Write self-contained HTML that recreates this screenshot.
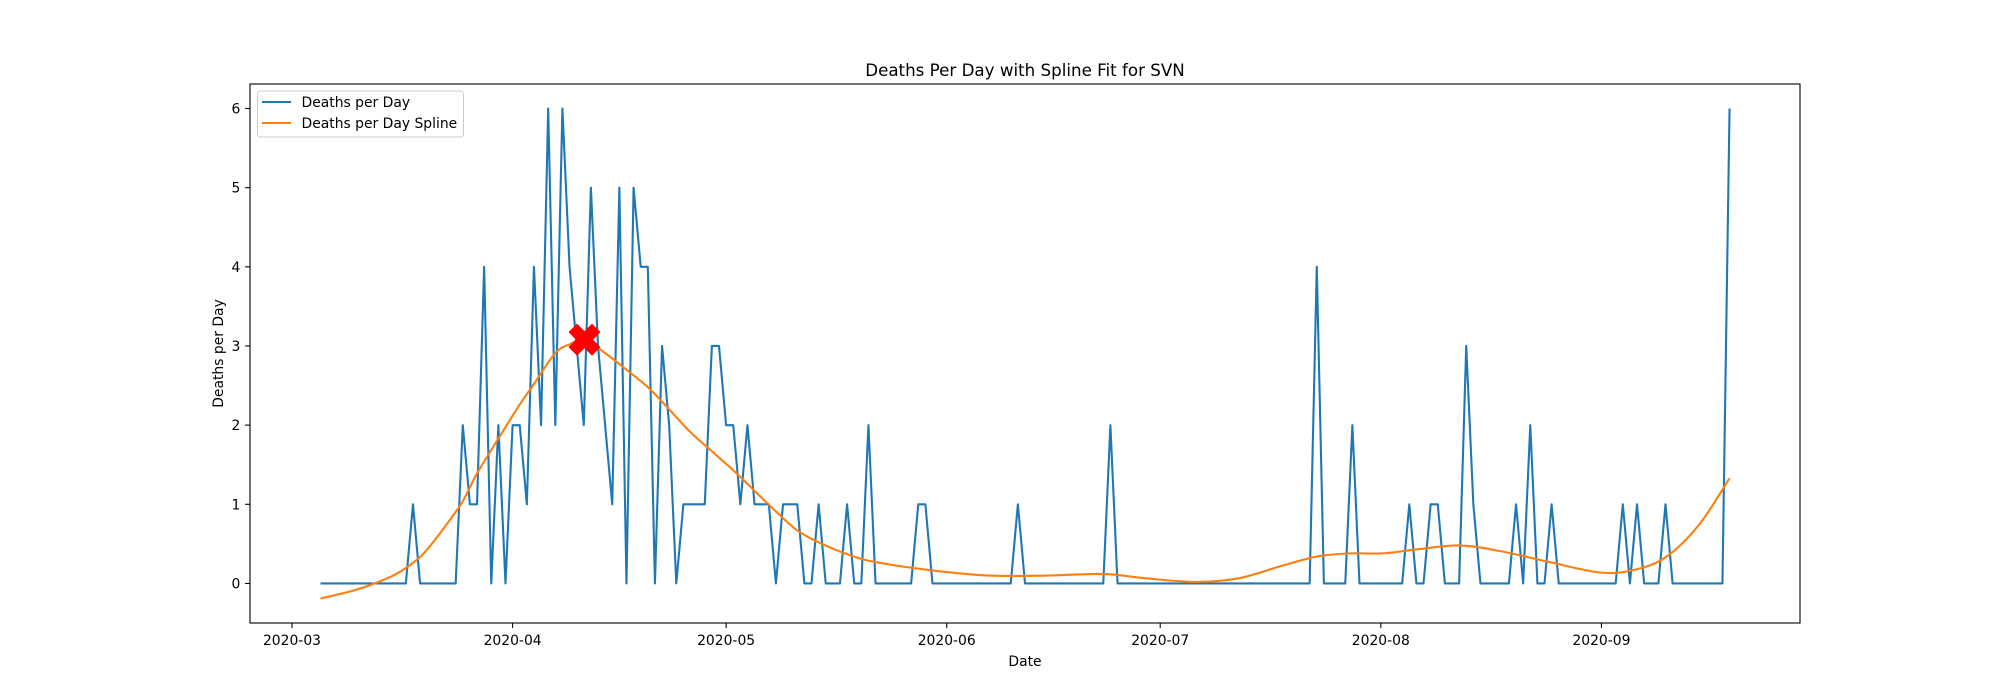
<!DOCTYPE html>
<html><head><meta charset="utf-8">
<style>
html,body{margin:0;padding:0;background:#fff;}
svg{display:block;font-family:"DejaVu Sans","Liberation Sans",sans-serif;}
</style></head>
<body>
<svg id="chart" width="2000" height="700" viewBox="0 0 2000 700" xmlns="http://www.w3.org/2000/svg">
<rect width="2000" height="700" fill="#fff"/>
<text x="1025" y="76" font-size="16.7" text-anchor="middle">Deaths Per Day with Spline Fit for SVN</text>
<g id="plot"></g>
<rect x="250" y="84" width="1550" height="539" fill="none" stroke="#000" stroke-width="1.1"/>
<text x="1025" y="666" font-size="13.9" text-anchor="middle">Date</text>
<text x="0" y="0" font-size="13.9" text-anchor="middle" transform="translate(223,353.5) rotate(-90)">Deaths per Day</text>
<g>
<rect x="257.5" y="91" width="206" height="46" rx="3" fill="#fff" fill-opacity="0.8" stroke="#ccc" stroke-width="1"/>
<line x1="262" y1="102" x2="291" y2="102" stroke="#1f77b4" stroke-width="2.1"/>
<text x="301.5" y="107" font-size="13.9">Deaths per Day</text>
<line x1="262" y1="123" x2="291" y2="123" stroke="#ff7f0e" stroke-width="2.1"/>
<text x="301.5" y="128" font-size="13.9">Deaths per Day Spline</text>
</g>
</svg>
<script>
// data: daily deaths starting 2020-03-05 (day index 0)
const startDate = "2020-03-05";
const deaths = [0,0,0,0,0,0,0,0,0,0,0,0,0,1,0,0,0,0,0,0,
2,1,1,4,0,2,0,2,2,1,4,2,6,2,6,4,3,2,5,3,
2,1,5,0,5,4,4,0,3,2,0,1,1,1,1,3,3,2,2,1,
2,1,1,1,0,1,1,1,0,0,1,0,0,0,1,0,0,2,0,0,
0,0,0,0,1,1,0,0,0,0,0,0,0,0,0,0,0,0,1,0,
0,0,0,0,0,0,0,0,0,0,0,2,0,0,0,0,0,0,0,0,
0,0,0,0,0,0,0,0,0,0,0,0,0,0,0,0,0,0,0,0,
4,0,0,0,0,2,0,0,0,0,0,0,0,1,0,0,1,1,0,0,
0,3,1,0,0,0,0,0,1,0,2,0,0,1,0,0,0,0,0,0,
0,0,0,1,0,1,0,0,0,1,0,0,0,0,0,0,0,0,6];
const splineDays = [0,5,10,13,15,18,20,22,25,28,30,33,35,37,40,43,46,49,52,55,58,61,64,67,70,74,78,86,94,102,110,116,123,129,135,140,144.7,149.3,154,160,165.7,172.7,179.7,184.3,189,193.7,198];
const splineVals = [-0.19,-0.08,0.09,0.26,0.43,0.78,1.04,1.39,1.83,2.26,2.52,2.91,3.02,3.08,2.91,2.70,2.48,2.20,1.91,1.67,1.43,1.17,0.91,0.67,0.52,0.37,0.27,0.165,0.10,0.10,0.12,0.065,0.02,0.065,0.22,0.34,0.38,0.38,0.43,0.48,0.41,0.27,0.14,0.165,0.33,0.74,1.33];
const peakDay = [37.1];
const peakVal = [3.08];
const yTicks = [0,1,2,3,4,5,6];
const xTickLabels = ["2020-03","2020-04","2020-05","2020-06","2020-07","2020-08","2020-09"];

const NS="http://www.w3.org/2000/svg";
const L=250,R=1800,T=84,B=623;
const DAY=86400000;
const t0=Date.parse(startDate+"T00:00:00Z");
const nDays=deaths.length-1;
const xmin=-nDays*0.05, xmax=nDays*1.05;
const allY=deaths.concat(splineVals);
const dmin=Math.min(...allY), dmax=Math.max(...allY);
const ymin=dmin-(dmax-dmin)*0.05, ymax=dmax+(dmax-dmin)*0.05;
function xs(d){return L+(d-xmin)/(xmax-xmin)*(R-L);}
function ys(v){return B-(v-ymin)/(ymax-ymin)*(B-T);}
const svg=document.getElementById('chart');
const plot=document.getElementById('plot');
function mk(tag,attrs,parent){const e=document.createElementNS(NS,tag);for(const k in attrs)e.setAttribute(k,attrs[k]);(parent||svg).appendChild(e);return e;}

yTicks.forEach(v=>{
  const y=ys(v);
  const tk=mk('line',{x1:L-4.9,x2:L,y1:y,y2:y,stroke:'#000','stroke-width':1.1});
  
  
  const tx=mk('text',{x:L-9.7,y:y+5,'font-size':13.9,'text-anchor':'end'});
  tx.textContent=String(v);
  
  
});
xTickLabels.forEach(lbl=>{
  const d=(Date.parse(lbl+"-01T00:00:00Z")-t0)/DAY;
  const x=xs(d);
  const tk=mk('line',{x1:x,x2:x,y1:B,y2:B+4.9,stroke:'#000','stroke-width':1.1});
  
  
  const tx=mk('text',{x:x,y:B+22,'font-size':13.9,'text-anchor':'middle'});
  tx.textContent=lbl;
  
  
});
let p=deaths.map((v,i)=>(i?'L':'M')+xs(i).toFixed(2)+' '+ys(v).toFixed(2)).join(' ');
const dl=mk('path',{d:p,fill:'none',stroke:'#1f77b4','stroke-width':2.1,'stroke-linejoin':'round'},plot);


const pts=splineDays.map((d,i)=>[xs(d),ys(splineVals[i])]);
let sp='M'+pts[0][0]+' '+pts[0][1];
for(let i=0;i<pts.length-1;i++){
  const p0=pts[Math.max(0,i-1)],p1=pts[i],p2=pts[i+1],p3=pts[Math.min(pts.length-1,i+2)];
  const c1=[p1[0]+(p2[0]-p0[0])/6,p1[1]+(p2[1]-p0[1])/6];
  const c2=[p2[0]-(p3[0]-p1[0])/6,p2[1]-(p3[1]-p1[1])/6];
  sp+=' C'+c1.join(' ')+' '+c2.join(' ')+' '+p2.join(' ');
}
const sl=mk('path',{d:sp,fill:'none',stroke:'#ff7f0e','stroke-width':2.1},plot);


const cx=xs(peakDay[0]),cy=ys(peakVal[0]);
const a=15,w=7.5;
const poly=[[-a+w,-a],[0,-w],[a-w,-a],[a,-a+w],[w,0],[a,a-w],[a-w,a],[0,w],[-a+w,a],[-a,a-w],[-w,0],[-a,-a+w]].map(q=>(cx+q[0])+','+(cy+q[1])).join(' ');
const mkr=mk('polygon',{points:poly,fill:'#ff0000',stroke:'#ff0000','stroke-width':1.5,'stroke-linejoin':'round'},plot);


</script>
</body></html>
